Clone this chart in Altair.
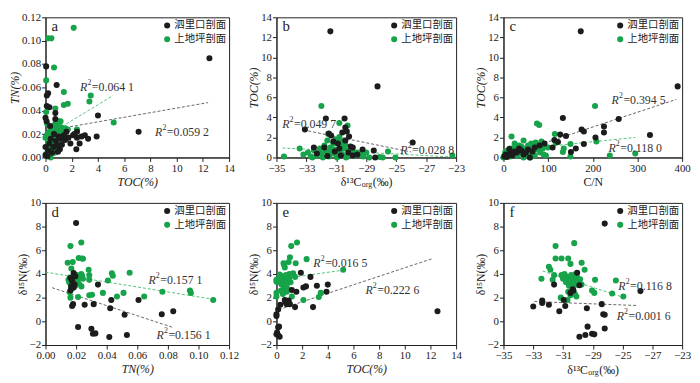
import altair as alt
import pandas as pd

BLACK = "泗里口剖面"
GREEN = "上地坪剖面"
C_BLACK = "#1c1c1c"
C_GREEN = "#16a34a"

# ---------- panel a : TOC(%) vs TN(%) ----------
a_bx = [12.5, 7.1, 4.0, 3.9, 0.85, 0.05, 0.1, 0.2, 0.1, 0.3, 0.0, 0.08, 0.75, 0.75, 0.35, 0.0, 0.0,
        2.1, 2.4, 2.75, 3.0, 3.25, 1.9, 2.35, 2.6, 1.5, 1.75, 1.25, 1.1, 0.6, 0.95, 1.6, 2.4, 2.2,
        1.4, 0.3, 0.5, 0.2, 0.8, 1.0, 0.65, 0.4, 1.2, 0.15, 0.9]
a_by = [0.085, 0.022, 0.036, 0.018, 0.062, 0.078, 0.053, 0.055, 0.044, 0.043, 0.034, 0.031, 0.038,
        0.033, 0.027, 0.009, 0.002, 0.019, 0.017, 0.018, 0.019, 0.016, 0.012, 0.007, 0.012, 0.015,
        0.017, 0.011, 0.007, 0.009, 0.005, 0.022, 0.022, 0.020, 0.019, 0.012, 0.004, 0.006, 0.014,
        0.018, 0.020, 0.016, 0.016, 0.001, 0.010]
a_gx = [2.15, 0.2, 0.45, 0.65, 0.05, 0.05, 0.12, 0.75, 1.4, 1.4, 1.7, 3.35, 3.45, 5.2, 0.75, 1.0,
        1.15, 1.5, 1.7, 2.4, 0.0, 0.05, 0.1, 0.15, 0.2, 0.25, 0.3, 0.35, 0.4, 0.45, 0.5, 0.55, 0.6,
        0.65, 0.7, 0.75, 0.8, 0.85, 0.9, 0.95, 1.0, 1.05, 1.1, 1.2, 1.3, 0.3, 0.4, 0.6, 0.7, 0.55,
        0.45, 0.35, 0.6, 0.8, 0.9, 1.0, 0.25, 0.15, 0.5, 0.7, 0.85, 1.15, 0.4, 0.2, 0.65]
a_gy = [0.111, 0.102, 0.102, 0.077, 0.066, 0.039, 0.029, 0.042, 0.056, 0.045, 0.046, 0.048, 0.053,
        0.030, 0.029, 0.031, 0.031, 0.025, 0.024, 0.024, 0.017, 0.003, 0.001, 0.004, 0.008, 0.012,
        0.022, 0.018, 0.014, 0.010, 0.006, 0.020, 0.016, 0.024, 0.013, 0.019, 0.022, 0.017, 0.015,
        0.025, 0.020, 0.012, 0.023, 0.018, 0.022, 0.003, 0.000, 0.008, 0.004, 0.013, 0.018, 0.026,
        0.027, 0.010, 0.021, 0.014, 0.016, 0.020, 0.024, 0.017, 0.028, 0.026, 0.007, 0.013, 0.011]

# ---------- panel b : d13C vs TOC ----------
b_bx = [-31.4, -28.25, -25.9, -31.7, -30.45, -33.1, -31.5, -31.35, -30.4, -30.3, -30.6, -30.15,
        -30.4, -29.9, -29.25, -28.5, -28.4, -32.5, -31.6, -30.05, -30.9, -31.1, -30.8, -31.8,
        -32.3, -29.6, -30.2, -30.7, -31.2, -29.9]
b_by = [12.6, 7.1, 1.5, 3.9, 3.9, 2.8, 2.4, 2.2, 3.0, 2.6, 2.5, 2.1, 1.7, 1.0, 0.8, 0.7, 0.0, 1.0,
        0.15, 1.1, 1.4, 0.6, 0.9, 1.0, 0.4, 0.3, 0.5, 0.2, 1.6, 0.2]
b_gx = [-32.0, -30.8, -30.25, -30.8, -31.55, -33.45, -34.5, -23.25, -27.55, -27.05, -27.9, -28.1,
        -33.2, -32.9, -32.7, -32.5, -32.3, -32.1, -32.0, -31.8, -31.7, -31.6, -31.5, -31.4, -31.3,
        -31.2, -31.1, -31.0, -30.9, -30.8, -30.7, -30.6, -30.5, -30.4, -30.3, -30.2, -30.1, -30.0,
        -29.9, -29.8, -29.6, -29.4, -29.2, -29.0, -28.8, -31.9, -31.05, -30.65, -30.95, -31.45,
        -30.35, -32.6]
b_gy = [5.15, 3.45, 3.2, 2.05, 2.35, 0.9, 0.1, 0.2, 0.6, 0.0, 0.0, 0.05, 0.3, 0.5, 0.1, 0.7, 0.2,
        0.9, 0.4, 1.2, 0.6, 1.7, 0.1, 1.0, 0.4, 1.4, 0.8, 0.2, 1.5, 0.6, 1.1, 0.3, 0.9, 1.3, 0.1,
        0.7, 0.4, 1.0, 0.6, 0.2, 0.5, 0.3, 0.1, 0.5, 0.0, 0.0, 1.8, 1.6, 0.0, 0.5, 0.0, 0.0]

# ---------- panel c : C/N vs TOC ----------
c_bx = [173, 390, 328, 258, 133, 225, 225, 206, 175, 180, 127, 140, 114, 122, 180, 151, 162, 92,
        81, 110, 59, 13, 2, 5, 8, 15, 20, 25, 30, 40, 45, 55, 65, 70, 35, 50]
c_by = [12.6, 7.1, 2.25, 3.85, 3.95, 3.1, 2.5, 2.0, 2.8, 2.6, 2.3, 2.15, 1.75, 1.55, 1.35, 0.55,
        0.9, 1.4, 1.2, 1.0, 0.0, 0.85, 0.1, 0.3, 0.05, 0.4, 0.2, 0.6, 0.5, 0.7, 0.3, 0.8, 0.6, 1.0,
        0.9, 0.5]
c_gx = [205, 75, 80, 18, 115, 208, 238, 295, 150, 133, 135, 117, 150, 95, 100, 0, 2, 4, 6, 8, 10,
        12, 15, 18, 20, 22, 25, 28, 30, 32, 35, 38, 40, 42, 45, 48, 50, 52, 55, 58, 60, 62, 65, 68,
        70, 72, 75, 78, 82, 85, 88, 90, 25, 35, 15, 5, 60, 45]
c_gy = [5.15, 3.4, 3.25, 2.1, 2.35, 1.6, 0.2, 0.4, 0.1, 0.55, 0.9, 1.5, 1.35, 0.2, 1.0, 0.0, 0.2,
        0.5, 0.1, 0.3, 0.7, 0.4, 0.1, 0.6, 0.9, 0.3, 0.5, 0.8, 0.2, 1.0, 0.6, 0.4, 1.1, 0.7, 1.7,
        0.3, 0.9, 0.5, 1.2, 0.8, 0.4, 1.4, 0.6, 1.0, 0.2, 1.5, 0.8, 1.2, 0.5, 1.6, 0.9, 0.3, 1.4,
        1.2, 0.9, 0.6, 0.0, 0.0]

# ---------- panel d : TN vs d15N ----------
d_bx = [0.020, 0.0184, 0.0343, 0.043, 0.0608, 0.0256, 0.0315, 0.018, 0.0174, 0.0423, 0.0517,
        0.076, 0.0835, 0.0213, 0.030, 0.031, 0.0326, 0.0417, 0.0532, 0.0163, 0.0174, 0.0184,
        0.0163, 0.019, 0.0168, 0.0195]
d_by = [8.3, 4.07, 3.1, 1.8, 1.8, 1.4, 1.45, 1.45, 1.3, 1.1, 0.55, 0.6, 0.85, -0.48, -0.62, -1.05,
        -1.02, -1.32, -1.16, 3.65, 3.4, 2.85, 2.6, 3.1, 2.95, 3.8]
d_gx = [0.0163, 0.0234, 0.0217, 0.0239, 0.0245, 0.0145, 0.0178, 0.0169, 0.0282, 0.0234, 0.0239,
        0.0286, 0.0286, 0.0434, 0.044, 0.055, 0.0408, 0.0286, 0.0304, 0.0375, 0.0467, 0.051,
        0.0645, 0.0764, 0.0944, 0.095, 0.1096, 0.0163, 0.0213, 0.0150, 0.0155, 0.0160, 0.0165,
        0.0170, 0.0175, 0.0178, 0.0182, 0.0186, 0.0190, 0.0195, 0.0200, 0.0205, 0.0212, 0.0220,
        0.0228, 0.0235, 0.0158, 0.0168, 0.0245, 0.0205, 0.0172]
d_gy = [6.35, 6.65, 5.35, 5.3, 5.28, 4.95, 5.0, 4.45, 4.35, 4.0, 3.85, 3.9, 3.5, 4.05, 3.85, 4.1,
        3.45, 2.2, 2.25, 2.4, 2.1, 2.4, 2.1, 2.5, 2.6, 2.4, 1.8, 2.0, 2.05, 3.5, 3.3, 3.7, 3.1, 3.45,
        3.6, 3.2, 3.85, 3.35, 3.5, 3.0, 3.7, 3.3, 3.55, 3.15, 3.7, 2.95, 2.45, 2.85, 3.6, 3.9, 2.75]

# ---------- panel e : TOC vs d15N ----------
e_bx = [12.55, 1.9, 2.65, 4.0, 3.9, 3.15, 2.1, 2.3, 2.85, 1.45, 0.8, 0.95, 0.3, 0.13, 0.0, 0.0,
        0.13, 0.2, 0.0, 0.15, 0.25, 0.05, 1.2, 1.55, 0.65, 0.95, 0.7, 1.05]
e_by = [0.85, 4.1, 3.75, 3.1, 2.5, 3.0, 2.85, 2.95, 1.2, 1.2, 1.45, 1.75, 1.4, 1.0, 0.45, 0.6,
        -0.5, -0.45, -1.1, -1.2, -1.3, -0.95, 2.65, 2.5, 1.8, 1.5, 1.6, 1.45]
e_gx = [1.6, 1.15, 2.35, 1.05, 0.55, 0.6, 0.65, 0.95, 1.5, 5.2, 1.3, 1.45, 0.0, 0.0, 2.1, 3.45,
        3.3, 0.0, 0.0, 0.7, 1.2, 0.2, 0.3, 0.4, 0.45, 0.5, 0.6, 0.65, 0.7, 0.75, 0.8, 0.85, 0.9,
        1.0, 1.1, 0.35, 0.5, 0.55, 1.0, 0.25, 0.8]
e_gy = [6.65, 6.35, 5.25, 5.4, 4.9, 4.75, 4.55, 5.0, 4.9, 4.35, 4.05, 3.75, 3.5, 3.35, 1.8, 2.4,
        2.05, 2.1, 2.4, 1.75, 2.1, 3.3, 3.6, 3.1, 3.8, 3.4, 2.9, 3.55, 3.25, 3.9, 3.1, 3.45, 2.7,
        3.65, 3.3, 2.6, 2.3, 2.5, 4.0, 3.95, 2.5]

# ---------- panel f : d13C vs d15N ----------
f_bx = [-28.2, -25.8, -33.0, -32.4, -32.4, -31.95, -31.6, -31.25, -30.95, -30.85, -30.3, -30.05,
        -29.9, -29.4, -28.4, -28.3, -28.2, -29.35, -28.2, -29.05, -28.9, -29.5, -29.9, -30.35, -30.5]
f_by = [8.25, 2.55, 1.25, 1.75, 1.55, 1.4, 3.1, 0.85, 1.8, 1.3, 2.6, 4.1, 3.05, 1.1, 1.45, 0.6,
        0.55, -0.45, -0.6, -1.05, -1.1, -1.15, -1.3, 2.7, 2.4]
f_gx = [-30.25, -31.5, -31.5, -31.1, -30.65, -30.5, -29.75, -29.55, -31.95, -31.85, -31.6, -31.7,
        -32.45, -28.85, -27.45, -29.05, -28.9, -27.7, -26.95, -31.15, -30.7, -30.1, -30.2, -31.1,
        -31.0, -30.9, -30.8, -30.75, -30.6, -30.55, -30.45, -30.4, -30.35, -30.3, -30.25, -30.15,
        -30.1, -30.05, -29.95, -29.85, -30.65, -30.5, -29.75]
f_gy = [6.6, 6.35, 5.3, 5.3, 5.3, 4.85, 4.95, 4.35, 4.6, 4.35, 3.9, 3.5, 3.6, 3.5, 3.45, 2.6, 2.4,
        2.35, 2.1, 2.0, 1.8, 2.1, 2.3, 3.9, 3.6, 4.0, 3.3, 3.75, 3.0, 3.5, 3.9, 3.2, 2.9, 3.6,
        3.35, 4.0, 3.1, 3.7, 3.4, 3.55, 2.5, 2.2, 3.1]

# ---------- trend lines (x1, y1, x2, y2) ----------
trend_black = {
    "a": [1.5, 0.0256, 12.4, 0.047],
    "b": [-33.2, 2.75, -26.0, 0.55],
    "c": [7, 0.2, 387, 5.8],
    "d": [0.0043, 2.84, 0.0829, -0.5],
    "e": [0.18, 0.99, 12.14, 5.29],
    "f": [-32.92, 1.67, -25.96, 1.33],
}
trend_green = {
    "a": [0.3, 0.020, 5.15, 0.053],
    "b": [-34.6, 0.95, -23.3, 0.05],
    "c": [5, 0.68, 295, 2.0],
    "d": [0.0, 4.15, 0.1107, 1.84],
    "e": [0.5, 3.6, 5.2, 4.32],
    "f": [-32.37, 4.25, -26.96, 2.03],
}
# ---------- R^2 labels (text, x, y) ----------
r2_labels = {
    "a": [("=0.064 1", 2.63, 0.060), ("=0.059 2", 8.35, 0.0217)],
    "b": [("=0.049 7", -34.62, 3.36), ("=0.028 8", -26.73, 0.77)],
    "c": [("=0.394 5", 242, 5.72), ("=0.118 0", 235, 0.93)],
    "d": [("=0.157 1", 0.0673, 3.47), ("=0.156 1", 0.0726, -1.16)],
    "e": [("=0.016 5", 2.87, 4.92), ("=0.222 6", 6.93, 2.64)],
    "f": [("=0.116 8", -27.29, 2.97), ("=0.001 6", -27.4, 0.47)],
}

SERIF = "Liberation Serif"
CJK = "Noto Sans CJK SC"
D15 = "δ¹⁵N(‰)"
SWAP = "datum.value == -27 ? '−25' : (datum.value == -25 ? '−27' : datum.label)"


def panel(letter, bx, by, gx, gy, xdom, ydom, xvals, yvals, xtitle, ytitle,
          xital, yital, xfmt, yfmt, w, h, xexpr=None):
    pts = pd.DataFrame({
        "x": list(bx) + list(gx),
        "y": list(by) + list(gy),
        "s": [BLACK] * len(bx) + [GREEN] * len(gx),
    })
    composite = xtitle == "D13"
    xaxis_kw = dict(values=xvals, labelOverlap=False, labelFlush=False)
    if composite:
        xaxis_kw["title"] = None
    else:
        xaxis_kw["title"] = xtitle
        xaxis_kw["titleFontStyle"] = "italic" if xital else "normal"
    if xfmt:
        xaxis_kw["format"] = xfmt
    if xexpr:
        xaxis_kw["labelExpr"] = xexpr
    yaxis_kw = dict(values=yvals, title=ytitle, titleFontStyle="italic" if yital else "normal",
                    labelOverlap=False, labelFlush=False)
    if yfmt:
        yaxis_kw["format"] = yfmt
    xs = alt.Scale(domain=xdom, nice=False, zero=False)
    ys = alt.Scale(domain=ydom, nice=False, zero=False)
    X = alt.X("x:Q", scale=xs, axis=alt.Axis(**xaxis_kw))
    Y = alt.Y("y:Q", scale=ys, axis=alt.Axis(**yaxis_kw))

    base = alt.Chart(pts).properties(width=w, height=h)
    points = base.mark_circle(size=38, opacity=1).encode(
        x=X, y=Y,
        color=alt.Color("s:N", scale=alt.Scale(domain=[BLACK, GREEN], range=[C_BLACK, C_GREEN]),
                        legend=alt.Legend(orient="top-right", title=None, offset=3, padding=0,
                                          labelFont=CJK, labelFontSize=10.5, labelColor="#222",
                                          symbolSize=38, symbolType="circle", rowPadding=3,
                                          labelOffset=2)),
        order=alt.Order("s:N", sort="ascending"),
    )
    tb = trend_black[letter]
    tg = trend_green[letter]
    lines_b = alt.Chart(pd.DataFrame({"x": [tb[0]], "y": [tb[1]], "x2": [tb[2]], "y2": [tb[3]]})).mark_rule(
        color="#555555", strokeDash=[3, 2], strokeWidth=0.9).encode(x=X, y=Y, x2="x2:Q", y2="y2:Q")
    lines_g = alt.Chart(pd.DataFrame({"x": [tg[0]], "y": [tg[1]], "x2": [tg[2]], "y2": [tg[3]]})).mark_rule(
        color="#3cbf6a", strokeDash=[3, 2], strokeWidth=0.9).encode(x=X, y=Y, x2="x2:Q", y2="y2:Q")

    lab = pd.DataFrame({
        "t": [r[0] for r in r2_labels[letter]],
        "x": [r[1] for r in r2_labels[letter]],
        "y": [r[2] for r in r2_labels[letter]],
    })
    r_txt = alt.Chart(lab).mark_text(font=SERIF, fontSize=12, fontStyle="italic", align="left",
                                     baseline="middle", color="#333").encode(
        x=X, y=Y, text=alt.value("R"))
    r_rest = alt.Chart(lab).mark_text(font=SERIF, fontSize=12, align="left", baseline="middle",
                                      dx=12, color="#333").encode(
        x=X, y=Y, text=alt.Text("t:N"))
    r_sup = alt.Chart(lab).mark_text(font=SERIF, fontSize=8, align="left", baseline="middle",
                                     dx=7.5, dy=-4, color="#333").encode(
        x=X, y=Y, text=alt.value("2"))
    let = alt.Chart(pd.DataFrame({"l": [letter]})).mark_text(
        font=SERIF, fontSize=15, align="left", baseline="middle", color="#222").encode(
        x=alt.value(6), y=alt.value(9), text="l:N")
    layers = [lines_b, lines_g, points, r_txt, r_rest, r_sup, let]
    if composite:
        x0 = w / 2 - 5
        ty = h + 25
        t1 = alt.Chart(pd.DataFrame({"t": ["δ¹³C"]})).mark_text(
            font=SERIF, fontSize=12, align="right", baseline="middle", color="#222").encode(
            x=alt.value(x0), y=alt.value(ty), text="t:N")
        t2 = alt.Chart(pd.DataFrame({"t": ["org"]})).mark_text(
            font=SERIF, fontSize=8, align="left", baseline="middle", color="#222").encode(
            x=alt.value(x0 + 0.5), y=alt.value(ty + 3), text="t:N")
        t3 = alt.Chart(pd.DataFrame({"t": ["(‰)"]})).mark_text(
            font=SERIF, fontSize=12, align="left", baseline="middle", color="#222").encode(
            x=alt.value(x0 + 11.5), y=alt.value(ty), text="t:N")
        layers += [t1, t2, t3]
    return alt.layer(*layers)


c_vals = [0, 100, 200, 300, 400]
TOPH = 142
BOTH = 144
pa = panel("a", a_bx, a_by, a_gx, a_gy, [0, 14], [0, 0.12], list(range(0, 15, 2)),
           [0, 0.02, 0.04, 0.06, 0.08, 0.10, 0.12], "TOC(%)", "TN(%)", True, True, None, ".2f", 186, TOPH)
pb = panel("b", b_bx, b_by, b_gx, b_gy, [-35, -23], [0, 14], list(range(-35, -22, 2)),
           list(range(0, 15, 2)), "D13", "TOC(%)", False, True, None, None, 182, TOPH, SWAP)
pc = panel("c", c_bx, c_by, c_gx, c_gy, [0, 400], [0, 14], c_vals,
           list(range(0, 15, 2)), "C/N", "TOC(%)", False, True, None, None, 181, TOPH)
pd_ = panel("d", d_bx, d_by, d_gx, d_gy, [0, 0.12], [-2, 10], [0, 0.02, 0.04, 0.06, 0.08, 0.10, 0.12],
            list(range(-2, 11, 2)), "TN(%)", D15, True, False, ".2f", None, 186, BOTH)
pe = panel("e", e_bx, e_by, e_gx, e_gy, [0, 14], [-2, 10], list(range(0, 15, 2)),
           list(range(-2, 11, 2)), "TOC(%)", D15, True, False, None, None, 182, BOTH)
pf = panel("f", f_bx, f_by, f_gx, f_gy, [-35, -23], [-2, 10], list(range(-35, -22, 2)),
           list(range(-2, 11, 2)), "D13", D15, False, False, None, None, 181, BOTH, SWAP)

chart = alt.ConcatChart(
    concat=[pa, pb, pc, pd_, pe, pf], columns=3,
    spacing={"row": 46, "column": 48}, bounds="flush",
).resolve_scale(color="independent").resolve_legend(color="independent").properties(
    padding={"left": 0, "top": 0, "right": 0, "bottom": 0}, background="white"
).configure_axis(
    labelFont=SERIF, titleFont=SERIF, labelFontSize=11, titleFontSize=12, titleFontWeight="normal",
    grid=False, domainColor="#222", tickColor="#222", labelColor="#222", titleColor="#222",
    tickSize=4, labelPadding=1, labelOverlap=False, labelFlush=False,
).configure_axisX(titlePadding=3).configure_axisY(titlePadding=0).configure_view(
    stroke="#222", strokeWidth=1)

chart.save("out.html", embed_options={"renderer": "svg", "actions": False})
